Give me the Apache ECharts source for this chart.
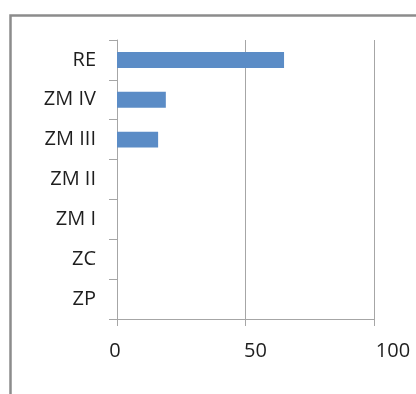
<!DOCTYPE html>
<html>
<head>
<meta charset="utf-8">
<script src="https://cdn.jsdelivr.net/npm/echarts@6/dist/echarts.min.js"></script>
<style>
html,body{margin:0;padding:0;background:#fff;}
#c{width:416px;height:394px;}
</style>
</head>
<body>
<div id="c"></div>
<script>
const categories = ['ZP', 'ZC', 'ZM I', 'ZM II', 'ZM III', 'ZM IV', 'RE'];
const values = [0, 0, 0, 0, 16, 19, 65];
const xTicks = [0, 50, 100];

const chart = echarts.init(document.getElementById('c'), null, {renderer: 'canvas'});
const font = '"Open Sans", "DejaVu Sans", sans-serif';
const fs = 20;
const txt = '#1e1e1e';
chart.setOption({
  animation: false,
  backgroundColor: '#ffffff',
  graphic: [{
    type: 'rect',
    left: 8, top: 13,
    shape: {width: 440, height: 420},
    style: {fill: 'none', stroke: '#8c8c8c', lineWidth: 2.5},
    z: -1
  }],
  grid: {left: 117, top: 40, right: 42, bottom: 75},
  xAxis: {
    type: 'value',
    min: 0, max: 100, interval: 50,
    axisLine: {show: true, lineStyle: {color: '#a6a6a6', width: 1}},
    axisTick: {show: true, length: 7, lineStyle: {color: '#a6a6a6'}},
    splitLine: {show: true, lineStyle: {color: '#a6a6a6', width: 1}},
    axisLabel: {
      margin: 22,
      color: txt,
      fontFamily: font,
      fontSize: fs,
      formatter: function (v) {
        if (v === xTicks[0]) return '{a|' + v + '}';
        if (v === xTicks[1]) return '{b|' + v + '}';
        return '{c|' + v + '}';
      },
      rich: {
        a: {fontFamily: font, fontSize: fs, color: txt, padding: [0, 4, 0, 0]},
        b: {fontFamily: font, fontSize: fs, color: txt, padding: [0, 0, 0, 20]},
        c: {fontFamily: font, fontSize: fs, color: txt, padding: [0, 0, 0, 38]}
      }
    }
  },
  yAxis: {
    type: 'category',
    data: categories,
    axisLine: {show: true, lineStyle: {color: '#a6a6a6', width: 1}},
    axisTick: {show: true, length: 8, alignWithLabel: false, lineStyle: {color: '#a6a6a6'}},
    splitLine: {show: false},
    axisLabel: {
      margin: 21,
      color: txt,
      fontFamily: font,
      fontSize: fs,
      padding: [4, 0, 0, 0]
    }
  },
  series: [{
    type: 'bar',
    data: values,
    barWidth: '40%',
    itemStyle: {color: '#5b8cc6'}
  }]
});
</script>
</body>
</html>
